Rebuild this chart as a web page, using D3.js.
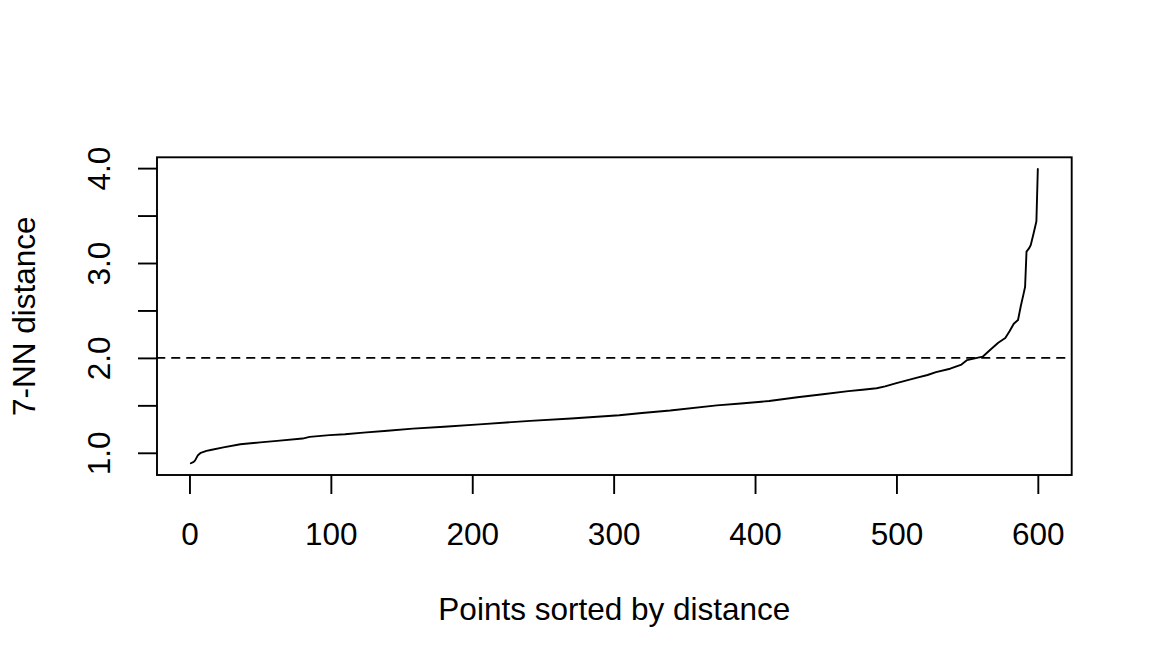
<!DOCTYPE html>
<html>
<head>
<meta charset="utf-8">
<script src="https://cdn.jsdelivr.net/npm/d3@7"></script>
<style>
  html, body { margin: 0; padding: 0; background: #fff; }
  svg { display: block; font-family: "Liberation Sans", Arial, Helvetica, sans-serif; }
</style>
</head>
<body>
<svg id="chart" width="1152" height="672"></svg>
<script>
// Sorted 7-NN distances (point index, distance)
const pointIndex = [1, 3, 4, 6, 8, 12, 15, 24, 36, 50, 62, 80, 85, 99, 110, 123, 140, 158, 180, 205,
  241, 270, 304, 320, 340, 373, 390, 410, 430, 448, 466, 476, 486, 492, 500, 514, 522, 528, 538, 546, 550, 557,
  561, 566, 572, 577, 580, 583, 586, 588, 590, 591, 592, 594, 595, 597, 599, 600];
const knnDist = [0.89, 0.905, 0.92, 0.975, 1.0, 1.02, 1.03, 1.057, 1.09, 1.11, 1.126, 1.15, 1.168, 1.186, 1.195, 1.212, 1.232, 1.255, 1.275, 1.30,
  1.336, 1.362, 1.396, 1.42, 1.445, 1.50, 1.52, 1.546, 1.585, 1.617, 1.65, 1.665, 1.68, 1.70, 1.735, 1.79, 1.82, 1.85, 1.886, 1.93, 1.977, 2.0,
  2.013, 2.08, 2.16, 2.21, 2.28, 2.36, 2.40, 2.55, 2.68, 2.75, 3.12, 3.16, 3.19, 3.31, 3.44, 3.99];

const xTicks = [0, 100, 200, 300, 400, 500, 600];
const yTicks = [1.0, 1.5, 2.0, 2.5, 3.0, 3.5, 4.0];
const yTickLabels = [1.0, 2.0, 3.0, 4.0];
const epsLine = 2.0;

const config = {
  left: 157, right: 1071.7, top: 157.3, bottom: 475,
  fontSize: 31.5, tickLen: 19, lw: 1.9
};

const data = pointIndex.map((d, i) => ({ x: d, y: knnDist[i] }));

// R-style 4% axis expansion
function expand(ext) {
  const pad = (ext[1] - ext[0]) * 0.04;
  return [ext[0] - pad, ext[1] + pad];
}

const svg = d3.select('#chart');

const x = d3.scaleLinear()
    .domain(expand(d3.extent(data, d => d.x)))
    .range([config.left, config.right]);

const y = d3.scaleLinear()
    .domain(expand(d3.extent(data, d => d.y)))
    .range([config.bottom, config.top]);

svg.append('clipPath').attr('id', 'plot-clip')
  .append('rect')
    .attr('x', config.left).attr('y', config.top)
    .attr('width', config.right - config.left)
    .attr('height', config.bottom - config.top);

const plot = svg.append('g').attr('clip-path', 'url(#plot-clip)');

// kNN distance curve
plot.append('path')
    .datum(data)
    .attr('fill', 'none')
    .attr('stroke', '#000')
    .attr('stroke-width', config.lw)
    .attr('stroke-linejoin', 'round')
    .attr('stroke-linecap', 'round')
    .attr('d', d3.line().x(d => x(d.x)).y(d => y(d.y)));

// eps reference line (lty = 2, round ends as in R)
plot.append('line')
    .attr('x1', config.left).attr('x2', config.right)
    .attr('y1', y(epsLine)).attr('y2', y(epsLine))
    .attr('stroke', '#000')
    .attr('stroke-width', config.lw)
    .attr('stroke-linecap', 'round')
    .attr('stroke-dasharray', '7.5,7.5');

// box
svg.append('rect')
    .attr('x', config.left).attr('y', config.top)
    .attr('width', config.right - config.left)
    .attr('height', config.bottom - config.top)
    .attr('fill', 'none')
    .attr('stroke', '#000')
    .attr('stroke-width', config.lw);

// x axis
const xAxis = svg.append('g')
    .attr('transform', `translate(0,${config.bottom})`)
    .call(d3.axisBottom(x).tickValues(xTicks).tickSize(config.tickLen).tickSizeOuter(0).tickFormat(d3.format('d')));
xAxis.select('.domain').remove();
xAxis.attr('font-family', null).attr('font-size', null);
xAxis.selectAll('.tick line').attr('stroke', '#000').attr('stroke-width', config.lw);
xAxis.selectAll('.tick text')
    .attr('fill', '#000')
    .attr('font-size', config.fontSize)
    .attr('dy', null)
    .attr('y', 545 - config.bottom);

// y axis
const yAxis = svg.append('g')
    .attr('transform', `translate(${config.left},0)`)
    .call(d3.axisLeft(y).tickValues(yTicks).tickSize(config.tickLen).tickSizeOuter(0)
      .tickFormat(d => yTickLabels.includes(d) ? d.toFixed(1) : ''));
yAxis.select('.domain').remove();
yAxis.attr('font-family', null).attr('font-size', null);
yAxis.selectAll('.tick line').attr('stroke', '#000').attr('stroke-width', config.lw);
yAxis.selectAll('.tick text')
    .attr('fill', '#000')
    .attr('font-size', config.fontSize)
    .attr('x', 0)
    .attr('dy', null)
    .attr('text-anchor', 'middle')
    .attr('transform', `translate(${110 - config.left},0) rotate(-90)`);

// axis titles
svg.append('text')
    .attr('x', (config.left + config.right) / 2)
    .attr('y', 620)
    .attr('text-anchor', 'middle')
    .attr('font-size', config.fontSize)
    .text('Points sorted by distance');

svg.append('text')
    .attr('transform', `translate(35,${(config.top + config.bottom) / 2}) rotate(-90)`)
    .attr('text-anchor', 'middle')
    .attr('font-size', config.fontSize)
    .text('7-NN distance');
</script>
</body>
</html>
